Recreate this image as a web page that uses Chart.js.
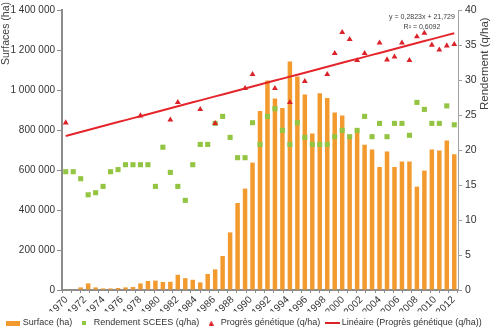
<!DOCTYPE html>
<html lang="fr">
<head>
<meta charset="utf-8">
<title>Surfaces, rendements et progrès génétique</title>
<script src="https://cdn.jsdelivr.net/npm/chart.js@4.4.1/dist/chart.umd.min.js"></script>
<style>
  html, body { margin: 0; padding: 0; background: #fff; }
</style>
</head>
<body>
<canvas id="diagramme" width="490" height="330"></canvas>
<script>
// rang de chaque observation (c'est le x de l'équation de tendance)
const rang = [1, 2, 3, 4, 5, 6, 7, 8, 9, 10, 11, 12, 13, 14, 15, 16, 17, 18, 19, 20,
  21, 22, 23, 24, 25, 26, 27, 28, 29, 30, 31, 32, 33, 34, 35, 36, 37, 38, 39, 40,
  41, 42, 43, 44, 45, 46, 47, 48, 49, 50, 51, 52, 53];

// années écrites sous l'axe horizontal
const annees = ['1970', '1971', '1972', '1973', '1974', '1975', '1976', '1977', '1978', '1979',
  '1980', '1981', '1982', '1983', '1984', '1985', '1986', '1987', '1988', '1989',
  '1990', '1991', '1992', '1993', '1994', '1995', '1996', '1997', '1998', '1999',
  '2000', '2001', '2002', '2003', '2004', '2005', '2006', '2007', '2008', '2009',
  '2010', '2011', '2012'];

// surfaces (ha)
const surfaces = [2000, 3000, 13000, 33000, 13000, 8000, 8000, 10000, 13000, 15000,
  33000, 45000, 47000, 40000, 41000, 76000, 59000, 51000, 38000, 80000,
  103000, 170000, 288000, 435000, 507000, 637000, 895000, 1047000, 957000, 910000,
  1142000, 1067000, 978000, 783000, 984000, 960000, 888000, 872000, 763000, 792000,
  726000, 703000, 615000, 692000, 615000, 642000, 642000, 517000, 597000, 703000,
  697000, 747000, 679000];

// rendement SCEES (q/ha)
const rendementScees = [16.9, 16.9, 15.9, 13.6, 13.9, 14.8, 16.9, 17.2, 17.9, 17.9,
  17.9, 17.9, 14.8, 20.4, 16.8, 14.8, 12.8, 17.9, 20.8, 20.8,
  23.8, 24.8, 21.8, 18.9, 18.9, 23.9, 20.8, 24.8, 25.9, 22.8,
  20.8, 23.9, 21.8, 20.8, 20.8, 20.8, 21.9, 22.8, 21.9, 22.8,
  24.8, 21.9, 23.8, 21.9, 23.8, 23.8, 22.1, 26.8, 25.8, 23.8,
  23.8, 26.3, 23.6];

// progrès génétique (q/ha), null quand il n'y a pas de mesure
const progresGenetique = [23.9, null, null, null, null, null, null, null, null, null,
  24.9, null, null, null, 24.3, 26.8, null, null, 25.8, null,
  23.8, null, null, null, 28.8, 30.8, null, null, 28.8, null,
  26.8, null, 29.8, null, null, 30.8, 33.8, 36.8, 35.8, 32.8,
  33.8, null, 35.3, 32.9, 33.3, 35.3, 32.8, 36.2, 36.7, 35.0,
  34.3, 34.9, 35.1];

// tendance linéaire indiquée sur le graphe
const pente = 0.2823;
const origine = 21.729;
const r2 = 0.6092;

const orange = '#f39a2e';
const vert = '#93c543';
const rouge = '#da2229';
const gris = '#8c8c8c';
const police = '"Liberation Sans", Arial, sans-serif';

Chart.defaults.font.family = police;
Chart.defaults.color = '#404040';

const virgule = v => String(v).replace('.', ',');
const milliers = v => String(v).replace(/\B(?=(\d{3})+(?!\d))/g, ' ');

// petites vignettes pour la légende
function vignette(w, h, dessin) {
    const c = document.createElement('canvas');
    c.width = w;
    c.height = h;
    dessin(c.getContext('2d'));
    return c;
}
const vignettes = [
    vignette(14, 5, g => { g.fillStyle = orange; g.fillRect(0, 0, 14, 5); }),
    vignette(4, 4, g => { g.fillStyle = vert; g.fillRect(0, 0, 4, 4); }),
    vignette(5, 5, g => {
        g.fillStyle = rouge;
        g.beginPath(); g.moveTo(2.5, 0); g.lineTo(5, 5); g.lineTo(0, 5); g.closePath(); g.fill();
    }),
    vignette(15, 2, g => { g.fillStyle = rouge; g.fillRect(0, 0, 15, 2); })
];

// titres d'axes et équation de la tendance
const textesLibres = {
    id: 'textesLibres',
    afterDraw(chart) {
        const g = chart.ctx;
        g.save();
        g.fillStyle = '#404040';
        g.textBaseline = 'middle';

        g.font = '10.5px ' + police;
        g.save();
        g.translate(6, 2);
        g.rotate(-Math.PI / 2);
        g.textAlign = 'right';
        g.fillText('Surfaces (ha)', 0, 0);
        g.restore();

        g.font = '11.5px ' + police;
        g.save();
        g.translate(485, 110);
        g.rotate(-Math.PI / 2);
        g.textAlign = 'left';
        g.fillText('Rendement (q/ha)', 0, 0);
        g.restore();

        g.font = '7px ' + police;
        g.textAlign = 'center';
        g.fillText('y = ' + virgule(pente) + 'x + ' + virgule(origine), 422, 17);
        g.fillText('R² = ' + virgule(r2), 422, 27);
        g.restore();
    }
};

new Chart(
    document.getElementById('diagramme'),
    {
        type: 'bar',
        data: {
            labels: rang,
            datasets: [
                {
                    label: 'Surface (ha)',
                    data: surfaces,
                    yAxisID: 'y',
                    backgroundColor: orange,
                    barPercentage: 0.6,
                    categoryPercentage: 1,
                    order: 4
                },
                {
                    type: 'line',
                    label: 'Rendement SCEES (q/ha)',
                    data: rendementScees,
                    yAxisID: 'y1',
                    showLine: false,
                    pointStyle: 'rect',
                    pointRadius: 3.6,
                    pointBackgroundColor: vert,
                    pointBorderWidth: 0,
                    backgroundColor: vert,
                    borderColor: vert,
                    order: 3
                },
                {
                    type: 'line',
                    label: 'Progrès génétique (q/ha)',
                    data: progresGenetique,
                    yAxisID: 'y1',
                    showLine: false,
                    pointStyle: 'triangle',
                    pointRadius: 3.4,
                    pointBackgroundColor: rouge,
                    pointBorderWidth: 0,
                    backgroundColor: rouge,
                    borderColor: rouge,
                    order: 1
                },
                {
                    type: 'line',
                    label: 'Linéaire (Progrès génétique (q/ha))',
                    data: rang.map(x => pente * x + origine),
                    yAxisID: 'y1',
                    borderColor: '#e4262c',
                    borderWidth: 2,
                    pointRadius: 0,
                    order: 2
                }
            ]
        },
        options: {
            responsive: false,
            animation: false,
            layout: {
                padding: { top: 10, left: 0, right: 0, bottom: -7.5 }
            },
            plugins: {
                tooltip: { enabled: false },
                legend: {
                    position: 'bottom',
                    labels: {
                        usePointStyle: true,
                        pointStyleWidth: 10,
                        padding: 7,
                        color: '#333',
                        font: { size: 9 },
                        generateLabels(chart) {
                            const items = Chart.defaults.plugins.legend.labels.generateLabels(chart);
                            items.sort((a, b) => a.datasetIndex - b.datasetIndex);
                            items.forEach(it => { it.pointStyle = vignettes[it.datasetIndex]; });
                            return items;
                        }
                    }
                }
            },
            scales: {
                x: {
                    display: false,
                    offset: true
                },
                xa: {
                    type: 'category',
                    labels: annees,
                    position: 'bottom',
                    offset: true,
                    grid: { drawOnChartArea: false, tickLength: 3, color: gris },
                    border: { color: gris, width: 2 },
                    ticks: {
                        autoSkip: false,
                        minRotation: 45,
                        maxRotation: 45,
                        padding: 1,
                        color: '#333',
                        font: { size: 10 },
                        callback: function (v, i) {
                            return i % 2 === 0 ? this.getLabelForValue(v) : '';
                        }
                    },
                    afterFit: s => { s.height = 21.5; }
                },
                y: {
                    position: 'left',
                    min: 0,
                    max: 1400000,
                    grid: { drawOnChartArea: false, tickLength: 5, color: gris },
                    border: { color: gris, width: 2 },
                    ticks: {
                        stepSize: 200000,
                        padding: 2,
                        color: '#333',
                        font: { size: 10 },
                        callback: v => milliers(v)
                    },
                    afterFit: s => { s.width = 62; }
                },
                y1: {
                    position: 'right',
                    min: 0,
                    max: 40,
                    grid: { drawOnChartArea: false, tickLength: 4, color: '#a0a0a0' },
                    border: { color: '#a0a0a0', width: 1 },
                    ticks: {
                        stepSize: 5,
                        padding: 3,
                        color: '#333',
                        font: { size: 10.5 }
                    },
                    afterFit: s => { s.width = 32; }
                }
            }
        },
        plugins: [textesLibres]
    }
);
</script>
</body>
</html>
